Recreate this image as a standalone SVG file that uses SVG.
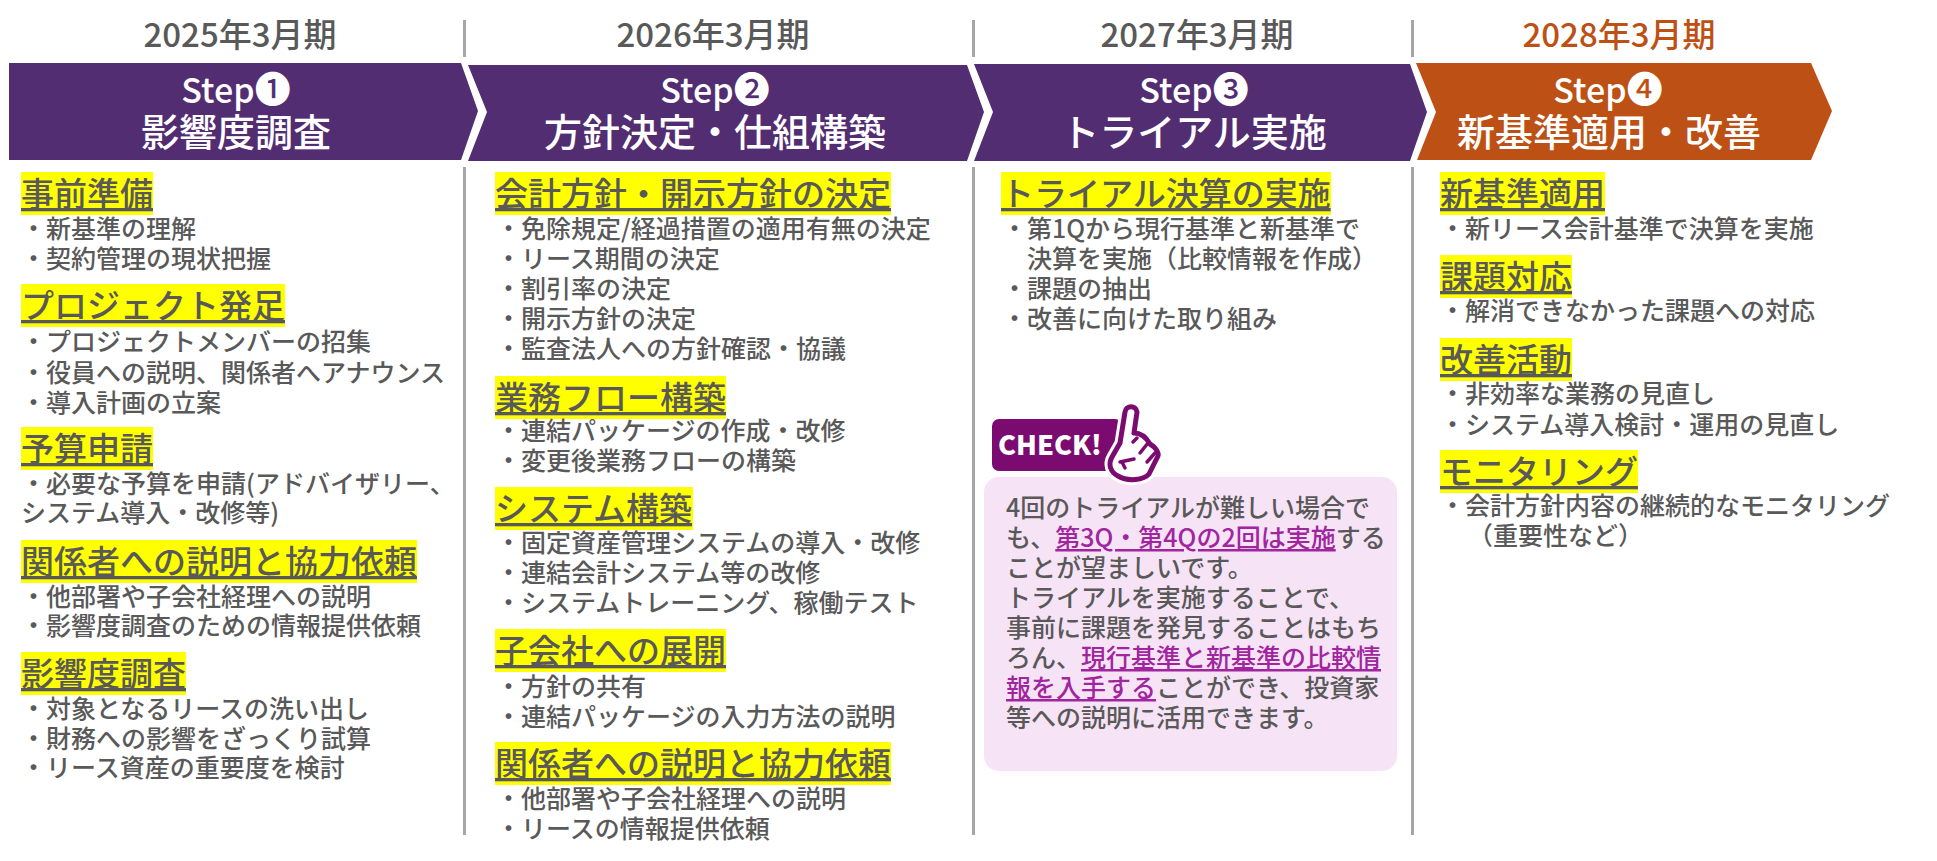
<svg xmlns="http://www.w3.org/2000/svg" width="1937" height="861" viewBox="0 0 1937 861">
<style>
text{font-family:"Noto Sans CJK JP","Noto Sans",sans-serif;font-weight:500;fill:#595959}
.yr{font-size:33px;text-anchor:middle}
.st{font-size:34px;fill:#fff;text-anchor:middle}
.st tspan{font-size:36px;fill:#fff}
.tt{font-size:38px;fill:#fff;text-anchor:middle}
.h{font-size:33px;text-decoration:underline;text-decoration-thickness:2.6px}
.b{font-size:25px}
.hl{fill:#ff0}
.d{stroke:#a6a6a6;stroke-width:3;fill:none}
.em{fill:#a0259e;text-decoration:underline;text-decoration-thickness:1.4px}
</style>
<defs>
<path id="hand" d="M1125 412C1126 405 1136 405 1137 412L1134 433C1140 433 1146 437 1150 444C1155 447 1159 452 1158 456L1149 474C1144 480 1128 482 1118 476C1110 472 1108 464 1112 457L1120 443Z"/>
</defs>
<rect width="1937" height="861" fill="#fff"/>
<g id="dividers">
<path class="d" d="M464.500 20V57M464.500 167V835M973.500 20V57M973.500 167V835M1412.500 20V57M1412.500 167V835"/>
</g>
<g id="step1">
<text class="yr" x="240" y="47">2025年3月期</text>
<path fill="#532d72" d="M9 63H461L478 111L461 160H9Z"/>
<text class="st" x="236" y="103">Step<tspan>❶</tspan></text>
<text class="tt" x="236" y="146">影響度調査</text>
</g>
<g id="step2">
<text class="yr" x="713" y="47">2026年3月期</text>
<path fill="#532d72" d="M468 65H967L984 112L967 161H468L487 112Z"/>
<text class="st" x="715" y="103">Step<tspan>❷</tspan></text>
<text class="tt" x="715" y="146">方針決定・仕組構築</text>
</g>
<g id="step3">
<text class="yr" x="1197" y="47">2027年3月期</text>
<path fill="#532d72" d="M974 64H1410L1427 112L1410 161H974L993 112Z"/>
<text class="st" x="1194" y="103">Step<tspan>❸</tspan></text>
<text class="tt" x="1194" y="146">トライアル実施</text>
</g>
<g id="step4">
<text class="yr" x="1619" y="47" style="fill:#bd5014">2028年3月期</text>
<path fill="#bd5014" d="M1416 63H1811L1832 111L1811 160H1417L1436 112Z"/>
<text class="st" x="1608" y="103">Step<tspan>❹</tspan></text>
<text class="tt" x="1609" y="146">新基準適用・改善</text>
</g>
<g id="col1">
<rect class="hl" x="21" y="172" width="132" height="43"/><text class="h" x="21" y="206">事前準備</text>
<text class="b" x="21" y="238">・新基準の理解</text>
<text class="b" x="21" y="268">・契約管理の現状把握</text>
<rect class="hl" x="21" y="284" width="264" height="43"/><text class="h" x="21" y="318">プロジェクト発足</text>
<text class="b" x="21" y="351">・プロジェクトメンバーの招集</text>
<text class="b" x="21" y="382">・役員への説明、関係者へアナウンス</text>
<text class="b" x="21" y="412">・導入計画の立案</text>
<rect class="hl" x="21" y="427" width="132" height="43"/><text class="h" x="21" y="461">予算申請</text>
<text class="b" x="21" y="493">・必要な予算を申請(アドバイザリー、</text>
<text class="b" x="21" y="522">システム導入・改修等)</text>
<rect class="hl" x="21" y="540" width="396" height="43"/><text class="h" x="21" y="574">関係者への説明と協力依頼</text>
<text class="b" x="21" y="606">・他部署や子会社経理への説明</text>
<text class="b" x="21" y="635">・影響度調査のための情報提供依頼</text>
<rect class="hl" x="21" y="652" width="165" height="43"/><text class="h" x="21" y="686">影響度調査</text>
<text class="b" x="21" y="718">・対象となるリースの洗い出し</text>
<text class="b" x="21" y="748">・財務への影響をざっくり試算</text>
<text class="b" x="21" y="777">・リース資産の重要度を検討</text>
</g>
<g id="col2">
<rect class="hl" x="495" y="172" width="396" height="43"/><text class="h" x="495" y="206">会計方針・開示方針の決定</text>
<text class="b" x="496" y="238">・免除規定/経過措置の適用有無の決定</text>
<text class="b" x="496" y="268">・リース期間の決定</text>
<text class="b" x="496" y="298">・割引率の決定</text>
<text class="b" x="496" y="328">・開示方針の決定</text>
<text class="b" x="496" y="358">・監査法人への方針確認・協議</text>
<rect class="hl" x="495" y="376" width="231" height="43"/><text class="h" x="495" y="410">業務フロー構築</text>
<text class="b" x="496" y="440">・連結パッケージの作成・改修</text>
<text class="b" x="496" y="470">・変更後業務フローの構築</text>
<rect class="hl" x="495" y="487" width="198" height="43"/><text class="h" x="495" y="521">システム構築</text>
<text class="b" x="496" y="552">・固定資産管理システムの導入・改修</text>
<text class="b" x="496" y="582">・連結会計システム等の改修</text>
<text class="b" x="496" y="612">・システムトレーニング、稼働テスト</text>
<rect class="hl" x="495" y="629" width="231" height="43"/><text class="h" x="495" y="663">子会社への展開</text>
<text class="b" x="496" y="696">・方針の共有</text>
<text class="b" x="496" y="726">・連結パッケージの入力方法の説明</text>
<rect class="hl" x="495" y="742" width="396" height="43"/><text class="h" x="495" y="776">関係者への説明と協力依頼</text>
<text class="b" x="496" y="808">・他部署や子会社経理への説明</text>
<text class="b" x="496" y="838">・リースの情報提供依頼</text>
</g>
<g id="col3">
<rect class="hl" x="1001" y="172" width="330" height="43"/><text class="h" x="1001" y="206">トライアル決算の実施</text>
<text class="b" x="1002" y="238">・第1Qから現行基準と新基準で</text>
<text class="b" x="1027" y="268">決算を実施（比較情報を作成）</text>
<text class="b" x="1002" y="298">・課題の抽出</text>
<text class="b" x="1002" y="328">・改善に向けた取り組み</text>
</g>
<g id="col4">
<rect class="hl" x="1440" y="172" width="165" height="43"/><text class="h" x="1440" y="206">新基準適用</text>
<text class="b" x="1440" y="238">・新リース会計基準で決算を実施</text>
<rect class="hl" x="1440" y="255" width="132" height="43"/><text class="h" x="1440" y="289">課題対応</text>
<text class="b" x="1440" y="320">・解消できなかった課題への対応</text>
<rect class="hl" x="1440" y="338" width="132" height="43"/><text class="h" x="1440" y="372">改善活動</text>
<text class="b" x="1440" y="403">・非効率な業務の見直し</text>
<text class="b" x="1440" y="434">・システム導入検討・運用の見直し</text>
<rect class="hl" x="1440" y="450" width="198" height="43"/><text class="h" x="1440" y="484">モニタリング</text>
<text class="b" x="1440" y="515">・会計方針内容の継続的なモニタリング</text>
<text class="b" x="1468" y="545">（重要性など）</text>
</g>
<g id="check">
<rect x="992" y="419" width="130" height="52" rx="7" fill="#7b0b70"/>
<text x="998" y="455" font-size="27" style="font-weight:800;fill:#fff">CHECK!</text>
<rect x="984" y="477" width="413" height="294" rx="15" fill="#f7e3f6"/>
<use href="#hand" fill="none" stroke="#fff" stroke-width="11" stroke-linejoin="round"/>
<use href="#hand" fill="#fff" stroke="#7b0b70" stroke-width="5" stroke-linejoin="round"/>
<path fill="none" stroke="#7b0b70" stroke-width="3.500" stroke-linecap="round" stroke-linejoin="round" d="M1120 462L1134 459M1125 468L1122 462M1133 442L1137 438M1140 453L1148 443M1147 462L1155 453"/>
<text class="b" x="1006" y="517">4回のトライアルが難しい場合で</text>
<text class="b" x="1006" y="547">も、<tspan class="em">第3Q・第4Qの2回は実施</tspan>する</text>
<text class="b" x="1006" y="577">ことが望ましいです。</text>
<text class="b" x="1006" y="607">トライアルを実施することで、</text>
<text class="b" x="1006" y="637">事前に課題を発見することはもち</text>
<text class="b" x="1006" y="667">ろん、<tspan class="em">現行基準と新基準の比較情</tspan></text>
<text class="b" x="1006" y="697"><tspan class="em">報を入手する</tspan>ことができ、投資家</text>
<text class="b" x="1006" y="727">等への説明に活用できます。</text>
</g>
</svg>
